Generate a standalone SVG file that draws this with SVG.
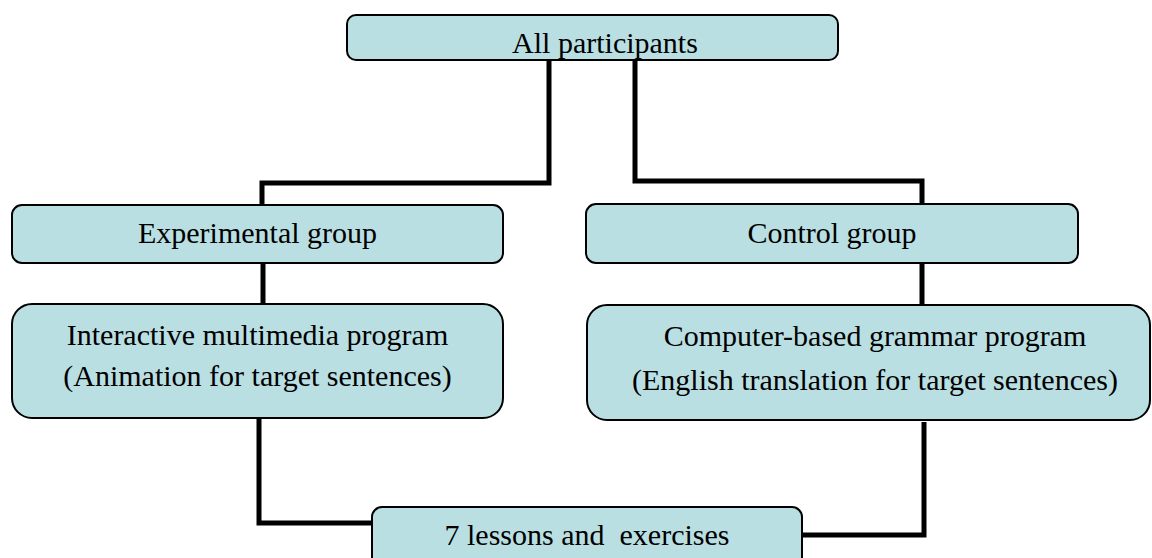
<svg xmlns="http://www.w3.org/2000/svg" width="1152" height="558" viewBox="0 0 1152 558">
<style>
.box{fill:#B9DFE3;stroke:#000;stroke-width:2}
.lbl{font-family:'Liberation Serif',Tinos,'Times New Roman',Times,'DejaVu Serif','Noto Serif',serif;font-size:30px;fill:#000;text-anchor:middle}
.conn{fill:none;stroke:#000;stroke-width:5;stroke-linejoin:miter;stroke-linecap:butt}
</style>
<rect width="1152" height="558" fill="#fff"/>
<g id="connectors">
<path class="conn" d="M549,60 V183 H262 V205"/>
<path class="conn" d="M635,60 V181 H922 V204"/>
<path class="conn" d="M263,263 V304"/>
<path class="conn" d="M922,263 V305"/>
<path class="conn" d="M259,418 V523 H373"/>
<path class="conn" d="M924,422 V535 H802"/>
</g>
<g id="node-all">
<rect class="box" x="347" y="15" width="491" height="45" rx="9"/>
<text class="lbl" x="605" y="53" font-family="Liberation Serif, serif">All participants</text>
</g>
<g id="node-experimental">
<rect class="box" x="12" y="205" width="491" height="58" rx="10"/>
<text class="lbl" x="257.5" y="243">Experimental group</text>
</g>
<g id="node-control">
<rect class="box" x="586" y="204" width="492" height="59" rx="10"/>
<text class="lbl" x="832" y="243">Control group</text>
</g>
<g id="node-interactive">
<rect class="box" x="12" y="304" width="491" height="114" rx="20"/>
<text class="lbl" x="257.5" y="345">Interactive multimedia program</text>
<text class="lbl" x="257.5" y="386">(Animation for target sentences)</text>
</g>
<g id="node-computer">
<rect class="box" x="587" y="305" width="563" height="115" rx="20"/>
<text class="lbl" x="875" y="346">Computer-based grammar program</text>
<text class="lbl" x="875" y="390">(English translation for target sentences)</text>
</g>
<g id="node-lessons">
<rect class="box" x="372" y="507" width="430" height="70" rx="10"/>
<text class="lbl" x="587" y="545" xml:space="preserve">7 lessons and  exercises</text>
</g>
</svg>
